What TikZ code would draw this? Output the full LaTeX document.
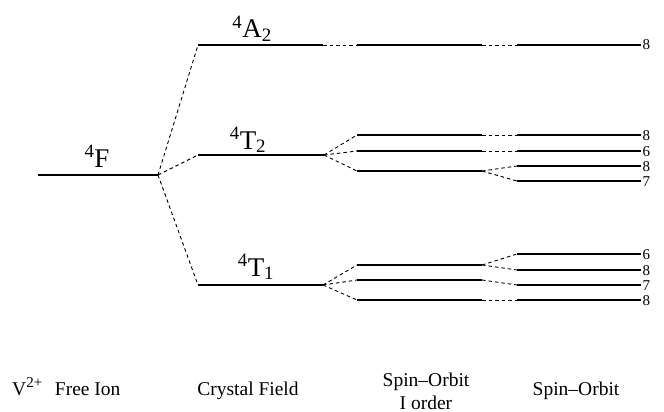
\documentclass[tikz,border=0pt]{standalone}
\usepackage{fontspec}
\setmainfont{Liberation Serif}
\begin{document}
\begin{tikzpicture}[x=1pt,y=-1pt,
  lvl/.style={line width=2.4pt},
  conn/.style={line width=0.9pt, dash pattern=on 3.5pt off 3pt},
  deg/.style={anchor=west, inner xsep=1.5pt, inner ysep=0pt, text height=10pt, text depth=0pt, font=\fontsize{15}{15}\selectfont},
  term/.style={anchor=base, inner sep=0pt, font=\fontsize{27}{27}\selectfont},
  axislbl/.style={anchor=base, inner sep=0pt, font=\fontsize{19.5}{23}\selectfont}]
\useasboundingbox (0,0) rectangle (664,412);
% free ion and crystal field levels
\coordinate (F-l) at (38,175);  \coordinate (F-r) at (158,175);
\coordinate (A-l) at (198,45);  \coordinate (A-r) at (323,45);
\coordinate (T2-l) at (198,155); \coordinate (T2-r) at (324,155);
\coordinate (T1-l) at (198,285); \coordinate (T1-r) at (323,285);
\draw[lvl] (F-l) -- (F-r);
\draw[lvl] (A-l) -- (A-r);
\draw[lvl] (T2-l) -- (T2-r);
\draw[lvl] (T1-l) -- (T1-r);
% spin-orbit first order
\foreach \n/\y in {IA/45, Ia/135, Ib/151, Ic/171, Ja/265, Jb/280, Jc/300} {
  \coordinate (\n-l) at (357,\y); \coordinate (\n-r) at (482,\y);
  \draw[lvl] (\n-l) -- (\n-r);
}
% spin-orbit
\foreach \n/\y/\d in {SA/45/8, Sa/135/8, Sb/151/6, Sc/166/8, Sd/181/7, Ua/254/6, Ub/270/8, Uc/285/7, Ud/300/8} {
  \coordinate (\n-l) at (517,\y); \coordinate (\n-r) at (641,\y);
  \draw[lvl] (\n-l) -- (\n-r);
  \node[deg] (\n-d) at (\n-r) {\d};
}
% connectors
\draw[conn] (F-r) -- (A-l);
\draw[conn] (F-r) -- (T2-l);
\draw[conn] (F-r) -- (T1-l);
\draw[conn] (A-r) -- (IA-l);
\draw[conn] (T2-r) -- (Ia-l);
\draw[conn] (T2-r) -- (Ib-l);
\draw[conn] (T2-r) -- (Ic-l);
\draw[conn] (T1-r) -- (Ja-l);
\draw[conn] (T1-r) -- (Jb-l);
\draw[conn] (T1-r) -- (Jc-l);
\draw[conn] (IA-r) -- (SA-l);
\draw[conn] (Ia-r) -- (Sa-l);
\draw[conn] (Ib-r) -- (Sb-l);
\draw[conn] (Ic-r) -- (Sc-l);
\draw[conn] (Ic-r) -- (Sd-l);
\draw[conn] (Ja-r) -- (Ua-l);
\draw[conn] (Ja-r) -- (Ub-l);
\draw[conn] (Jb-r) -- (Uc-l);
\draw[conn] (Jc-r) -- (Ud-l);
% term labels
\node[term] (tF) at (97,167) {\textsuperscript{4}F};
\node[term] (tA) at (252,38) {\textsuperscript{4}A\textsubscript{2}};
\node[term] (tT2) at (248,149) {\textsuperscript{4}T\textsubscript{2}};
\node[term] (tT1) at (256,276) {\textsuperscript{4}T\textsubscript{1}};
% column labels
\node[axislbl, anchor=base west] (c1) at (12,395) {V\raisebox{8pt}{\fontsize{15}{15}\selectfont 2+}\hspace{0.65em}Free Ion};
\node[axislbl] (c2) at (248,395) {Crystal Field};
\node[anchor=center, inner sep=0pt, align=center, font=\fontsize{19.5}{23}\selectfont] (c3) at (426,391) {Spin–Orbit\\I order};
\node[axislbl] (c4) at (576,395) {Spin–Orbit};
\end{tikzpicture}
\end{document}
